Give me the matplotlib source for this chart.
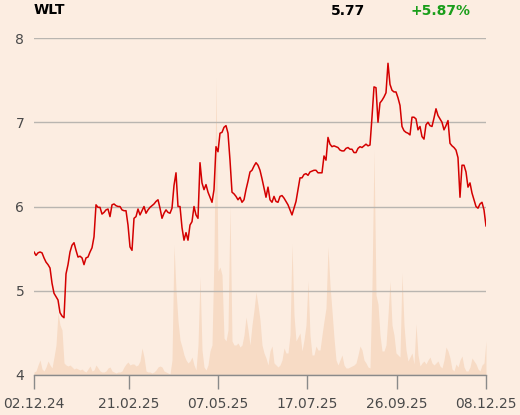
import matplotlib
matplotlib.use('Agg')
import matplotlib.pyplot as plt

# Session data (one value per trading session shown)
prices = [
    5.46, 5.42, 5.45, 5.46, 5.45, 5.39, 5.34, 5.31, 5.27, 5.09,
    4.97, 4.93, 4.89, 4.74, 4.70, 4.68, 5.20, 5.31, 5.46, 5.54,
    5.57, 5.48, 5.40, 5.41, 5.39, 5.31, 5.39, 5.40, 5.46, 5.51,
    5.64, 6.02, 5.99, 5.99, 5.91, 5.93, 5.96, 5.97, 5.88, 6.02,
    6.03, 6.01, 6.00, 6.00, 5.96, 5.95, 5.95, 5.78, 5.52, 5.48,
    5.86, 5.88, 5.97, 5.90, 5.95, 6.00, 5.92, 5.96, 5.99, 6.01,
    6.03, 6.06, 6.08, 5.98, 5.86, 5.92, 5.96, 5.93, 5.92, 5.98,
    6.25, 6.40, 6.00, 6.00, 5.75, 5.60, 5.69, 5.60, 5.78, 5.82,
    6.00, 5.90, 5.86, 6.52, 6.28, 6.20, 6.26, 6.17, 6.11, 6.05,
    6.20, 6.71, 6.65, 6.87, 6.88, 6.94, 6.96, 6.87, 6.55, 6.17,
    6.15, 6.12, 6.08, 6.11, 6.05, 6.08, 6.20, 6.30, 6.41, 6.43,
    6.48, 6.52, 6.49, 6.43, 6.33, 6.22, 6.11, 6.23, 6.08, 6.05,
    6.12, 6.06, 6.05, 6.12, 6.13, 6.10, 6.06, 6.02, 5.96, 5.90,
    5.98, 6.06, 6.20, 6.34, 6.34, 6.38, 6.39, 6.37, 6.41, 6.42,
    6.43, 6.43, 6.40, 6.40, 6.40, 6.60, 6.55, 6.82, 6.74, 6.71,
    6.72, 6.71, 6.70, 6.67, 6.66, 6.66, 6.69, 6.70, 6.68, 6.68,
    6.64, 6.64, 6.69, 6.71, 6.70, 6.72, 6.74, 6.72, 6.73, 7.06,
    7.42, 7.41, 7.00, 7.23, 7.26, 7.30, 7.35, 7.70, 7.45, 7.38,
    7.36, 7.36, 7.29, 7.20, 6.95, 6.90, 6.88, 6.87, 6.85, 7.06,
    7.06, 7.04, 6.91, 6.95, 6.83, 6.80, 6.97, 7.00, 6.96, 6.95,
    7.05, 7.16, 7.08, 7.04, 7.00, 6.91, 6.96, 7.02, 6.75, 6.72,
    6.70, 6.67, 6.58, 6.11, 6.49, 6.49, 6.41, 6.23, 6.28, 6.16,
    6.08, 6.00, 5.98, 6.03, 6.05, 5.96, 5.77,
]

# volume in 10k shares
volume = [
    3, 4, 10, 15, 6, 4, 8, 14, 10, 7,
    18, 30, 62, 50, 45, 12, 10, 9, 10, 8,
    6, 7, 6, 5, 6, 4, 3, 6, 9, 4,
    5, 10, 7, 4, 3, 3, 4, 7, 8, 4,
    3, 2, 3, 3, 4, 8, 11, 13, 10, 11,
    11, 9, 10, 14, 27, 18, 4, 3, 3, 2,
    3, 5, 8, 9, 8, 4, 3, 2, 1, 15,
    130, 85, 54, 35, 28, 20, 15, 12, 14, 18,
    10, 5, 30, 98, 25, 8, 5, 10, 24, 30,
    120, 297, 104, 108, 100, 37, 34, 45, 170, 34,
    30, 30, 32, 28, 30, 40, 58, 45, 30, 50,
    65, 83, 70, 55, 30, 22, 17, 10, 24, 29,
    12, 10, 8, 10, 15, 27, 22, 22, 40, 131,
    60, 34, 38, 42, 24, 35, 50, 94, 40, 20,
    20, 29, 25, 25, 40, 54, 67, 128, 90, 64,
    37, 15, 10, 15, 20, 10, 7, 7, 8, 9,
    10, 12, 20, 29, 25, 15, 12, 8, 7, 90,
    225, 80, 71, 40, 24, 24, 30, 60, 94, 50,
    40, 22, 20, 18, 102, 50, 25, 14, 18, 22,
    11, 51, 20, 9, 12, 14, 11, 15, 18, 12,
    10, 12, 14, 9, 7, 15, 28, 24, 17, 6,
    4, 11, 8, 15, 19, 8, 4, 4, 8, 17,
    14, 11, 6, 4, 10, 12, 34,
]

date_labels = ['02.12.24', '21.02.25', '07.05.25', '17.07.25', '26.09.25', '08.12.25']
date_sessions = [0, 47.5, 92, 136.5, 181.5, 226]
price_ticks = [4, 5, 6, 7, 8]

ticker = 'WLT'
last_price = '5.77'
change = '+5.87%'

bg = '#fcede1'
days = list(range(len(prices)))

fig = plt.figure(figsize=(5.2, 4.15), dpi=100, facecolor=bg)
ax = fig.add_axes([0.0654, 0.0964, 0.8692, 0.812])
ax.set_facecolor(bg)

# volume on twin axis, drawn behind price
vax = ax.twinx()
vax.fill_between(days, volume, 0, color='#f7dbc5', linewidth=0)
vax.set_ylim(0, 337)
vax.set_yticks([])
for s in vax.spines.values():
    s.set_visible(False)
ax.set_zorder(vax.get_zorder() + 1)
ax.patch.set_visible(False)
vax.patch.set_facecolor(bg)

ax.plot(days, prices, color='#d40000', linewidth=1.1)

ax.set_xlim(0, len(prices) - 1)
ax.set_ylim(4, 8)
ax.set_yticks(price_ticks)
ax.set_yticklabels([str(t) for t in price_ticks])
ax.grid(axis='y', color='#b9b5b0', linewidth=1)
ax.set_xticks(date_sessions)
ax.set_xticklabels(date_labels)

for side in ['top', 'right', 'left']:
    ax.spines[side].set_visible(False)
ax.spines['bottom'].set_color('#8a8a8a')
ax.spines['bottom'].set_linewidth(1)
ax.tick_params(axis='y', length=0, pad=7, labelsize=10, labelcolor='#4a4a4a')
ax.tick_params(axis='x', length=10, width=1, color='#8a8a8a', pad=6,
               labelsize=10, labelcolor='#4a4a4a')

fig.text(34 / 520, 1 - 10 / 415, ticker, fontsize=10, fontweight='bold',
         color='black', va='center', ha='left')
fig.text(331 / 520, 1 - 11 / 415, last_price, fontsize=10, fontweight='bold',
         color='black', va='center', ha='left')
fig.text(411 / 520, 1 - 11 / 415, change, fontsize=10, fontweight='bold',
         color='#1a9e1a', va='center', ha='left')

fig.savefig('out.png', dpi=100, facecolor=bg)
